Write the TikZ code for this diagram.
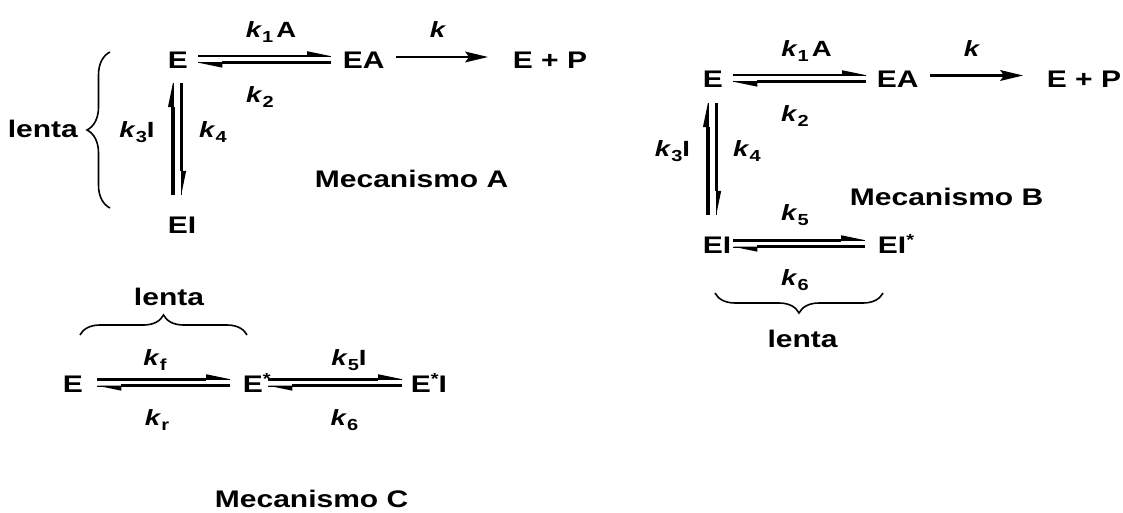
\documentclass[tikz,border=0pt]{standalone}
\usepackage{fontspec}
\setmainfont{Liberation Sans}[FakeStretch=1.25]
\usetikzlibrary{arrows.meta,decorations.pathreplacing,calc}

% rate constant: bold italic k with a lowered subscript
\newcommand{\kc}[1]{\textit{k}\raisebox{-5pt}{\fontsize{16}{16}\selectfont #1}}
% small raised asterisk for activated species
\newcommand{\supstar}{\raisebox{8pt}{\fontsize{16}{16}\selectfont *}}

\begin{document}
\begin{tikzpicture}[x=1pt,y=-1pt,
  species/.style={inner sep=0pt, text height=18pt, text depth=0pt, anchor=base west,
    font=\bfseries\fontsize{24}{28}\selectfont},
  ratelbl/.style={inner sep=0pt, anchor=base, font=\bfseries\fontsize{22}{26}\selectfont},
  mechname/.style={inner sep=0pt, font=\bfseries\fontsize{24}{28}\selectfont},
  eqline/.style={line width=2.6pt, preaction={draw,-},
    -{Triangle[harpoon,length=24pt,width=10pt,line width=0pt]}},
  vline/.style={eqline, line width=3.2pt},
  rxn/.style={line width=2.4pt, -{Stealth[length=23pt,width=11pt,inset=4pt,line width=0pt]}},
  brc/.style={decorate, decoration={brace, amplitude=#1}, line width=1.6pt},
]
\useasboundingbox (0,0) rectangle (1123,513);

% ---------------- Mecanismo A ----------------
\node[species] (aE)  at (167.7,69) {E};
\node[species] (aEA) at (342.7,69) {EA};
\node[species] (aEP) at (512.7,69) {E + P};
\node[species] (aEI) at (167.7,233) {EI};

\draw[eqline, shorten <=10.3pt, shorten >=11.7pt] ([yshift=3.8pt]aE.east) -- ([yshift=3.8pt]aEA.west);
\draw[eqline, shorten <=11.7pt, shorten >=10.3pt] ([yshift=-2.7pt]aEA.west) -- ([yshift=-2.7pt]aE.east);
\draw[rxn, shorten <=11.6pt, shorten >=24.7pt] ([yshift=3pt]aEA.east) -- ([yshift=3pt]aEP.west);
\draw[vline, shorten <=20pt, shorten >=14pt] ([xshift=-5pt]aE.south |- aEI.north) -- ([xshift=-5pt]aE.south);
\draw[vline, shorten <=14pt, shorten >=20pt] ([xshift=3.3pt]aE.south) -- ([xshift=3.3pt]aE.south |- aEI.north);

\node[ratelbl] (ak1) at (271,38) {\kc{1}\hspace{3pt}A};
\node[ratelbl] (ak)  at (438,38) {\textit{k}};
\node[ratelbl] (ak2) at (260,103) {\kc{2}};
\node[ratelbl] (ak3) at (137,138) {\kc{3}I};
\node[ratelbl] (ak4) at (213,138) {\kc{4}};

\draw[brc=23pt] (110,208) -- (110,52);
\node[mechname, anchor=base east] (alenta) at (78,138) {lenta};
\node[mechname, anchor=base west] (amech) at (314.7,187) {Mecanismo A};

% ---------------- Mecanismo B ----------------
\node[species] (bE)   at (702.7,88) {E};
\node[species] (bEA)  at (876.7,88) {EA};
\node[species] (bEP)  at (1046.7,88) {E + P};
\node[species] (bEI)  at (702.7,253) {EI};
\node[species] (bEIs) at (877.7,253) {EI\supstar};

\draw[eqline, shorten <=10.3pt, shorten >=10.7pt] ([yshift=3.8pt]bE.east) -- ([yshift=3.8pt]bEA.west);
\draw[eqline, shorten <=10.7pt, shorten >=10.3pt] ([yshift=-2.7pt]bEA.west) -- ([yshift=-2.7pt]bE.east);
\draw[rxn, shorten <=11.6pt, shorten >=23.7pt] ([yshift=3.5pt]bEA.east) -- ([yshift=3.5pt]bEP.west);
\draw[vline, shorten <=20pt, shorten >=15pt] ([xshift=-5pt]bE.south |- bEI.north) -- ([xshift=-5pt]bE.south);
\draw[vline, shorten <=15pt, shorten >=20pt] ([xshift=3.3pt]bE.south) -- ([xshift=3.3pt]bE.south |- bEI.north);
\draw[eqline, shorten <=1.9pt, shorten >=12.7pt] ([yshift=3.8pt]bEI.east) -- ([yshift=3.8pt]bEIs.west);
\draw[eqline, shorten <=12.7pt, shorten >=1.9pt] ([yshift=-2.7pt]bEIs.west) -- ([yshift=-2.7pt]bEI.east);

\node[ratelbl] (bk1) at (806.5,57) {\kc{1}\hspace{3pt}A};
\node[ratelbl] (bk)  at (972,57) {\textit{k}};
\node[ratelbl] (bk2) at (795,122) {\kc{2}};
\node[ratelbl] (bk3) at (672.5,157) {\kc{3}I};
\node[ratelbl] (bk4) at (747,157) {\kc{4}};
\node[ratelbl] (bk5) at (795,220) {\kc{5}};
\node[ratelbl] (bk6) at (795,285) {\kc{6}};

\node[mechname, anchor=base west] (bmech) at (849.7,205) {Mecanismo B};
\draw[brc=20pt] (883,293) -- (715,293);
\node[mechname, anchor=base] (blenta) at (802.5,347) {lenta};

% ---------------- Mecanismo C ----------------
\node[species] (cE)   at (62.7,392) {E};
\node[species] (cEs)  at (242.7,392) {E\supstar};
\node[species] (cEsI) at (410.7,392) {E\supstar I};

\draw[eqline, shorten <=14.3pt, shorten >=12.7pt] ([yshift=3.8pt]cE.east) -- ([yshift=3.8pt]cEs.west);
\draw[eqline, shorten <=12.7pt, shorten >=14.3pt] ([yshift=-2.7pt]cEs.west) -- ([yshift=-2.7pt]cE.east);
\draw[eqline, shorten <=-2.5pt, shorten >=8.7pt] ([yshift=3.8pt]cEs.east) -- ([yshift=3.8pt]cEsI.west);
\draw[eqline, shorten <=8.7pt, shorten >=-2.5pt] ([yshift=-2.7pt]cEsI.west) -- ([yshift=-2.7pt]cEs.east);

\node[ratelbl] (ckf) at (155,365) {\kc{f}};
\node[ratelbl] (ckr) at (157,425) {\kc{r}};
\node[ratelbl] (ck5) at (349,365) {\kc{5}I};
\node[ratelbl] (ck6) at (344.5,425) {\kc{6}};

\draw[brc=20pt] (80,335) -- (247,335);
\node[mechname, anchor=base] (clenta) at (169,305) {lenta};
\node[mechname, anchor=base west] (cmech) at (214.7,507) {Mecanismo C};
\end{tikzpicture}
\end{document}
